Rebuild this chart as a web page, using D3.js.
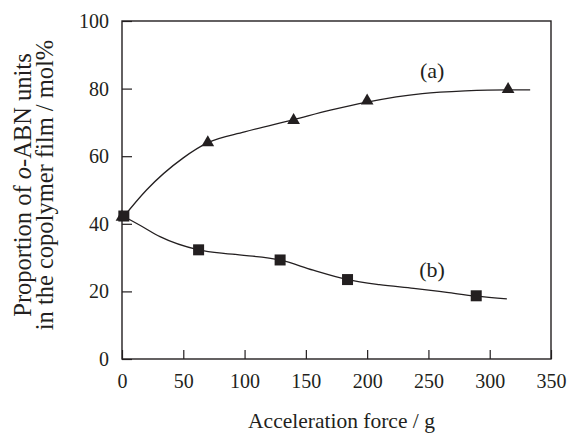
<!DOCTYPE html>
<html>
<head>
<meta charset="utf-8">
<script src="https://cdn.jsdelivr.net/npm/d3@7"></script>
<style>
  body { margin: 0; background: #fff; }
  text { font-family: "Liberation Serif", "DejaVu Serif", serif; fill: #231f20; }
</style>
</head>
<body>
<div id="chart"></div>
<script>
// measured points (a) and (b)
const pointsAX = [0, 70, 140, 200, 315];
const pointsAY = [42, 64, 70.6, 76.4, 79.8];
const pointsBX = [1.5, 62.5, 129, 184, 289];
const pointsBY = [42.3, 32.3, 29.3, 23.5, 18.7];

// fitted curves
const curveAX = [0, 20, 50, 70, 100, 140, 170, 200, 245, 280, 315, 333];
const curveAY = [41.5, 50, 59.5, 64, 67.2, 70.8, 73.6, 76, 78.5, 79.3, 79.6, 79.6];
const curveBX = [0, 15, 31, 62.5, 90, 129, 156, 184, 210, 238, 265, 289, 314];
const curveBY = [42.5, 39.5, 36.2, 32.3, 31, 29.3, 26.3, 23.5, 22, 20.9, 19.7, 18.6, 17.8];

const xTicks = [0, 50, 100, 150, 200, 250, 300, 350];
const yTicks = [0, 20, 40, 60, 80, 100];

const svgWidth = 568;
const svgHeight = 435;
const margin = {top: 21, right: 17, bottom: 76, left: 122};
const width = svgWidth - margin.left - margin.right;
const height = svgHeight - margin.top - margin.bottom;
const ink = "#231f20";

const svg = d3.select("#chart")
    .append("svg")
    .attr("width", svgWidth)
    .attr("height", svgHeight)
    .append("g")
    .attr("transform", "translate(" + margin.left + "," + margin.top + ")");

const x = d3.scaleLinear().domain([0, 350]).range([0, width]);
const y = d3.scaleLinear().domain([0, 100]).range([height, 0]);

// axes with inward ticks
const xAxis = svg.append("g")
    .attr("transform", "translate(0," + height + ")")
    .call(d3.axisBottom(x).tickValues(xTicks).tickSizeInner(-9).tickSizeOuter(0).tickPadding(15));
const yAxis = svg.append("g")
    .call(d3.axisLeft(y).tickValues(yTicks).tickSizeInner(-10).tickSizeOuter(0).tickPadding(13));

[xAxis, yAxis].forEach(function (a) {
    a.select(".domain").remove();
    a.selectAll("line").attr("stroke", ink).attr("stroke-width", 1.2);
    a.selectAll("text").style("font-size", "20px").attr("fill", ink)
        .style("font-family", "'Liberation Serif', serif");
});

// frame
svg.append("rect")
    .attr("x", 0).attr("y", 0)
    .attr("width", width).attr("height", height)
    .attr("fill", "none").attr("stroke", ink).attr("stroke-width", 1.4);

const line = d3.line()
    .x(d => x(d[0]))
    .y(d => y(d[1]))
    .curve(d3.curveMonotoneX);

svg.append("path")
    .datum(d3.zip(curveAX, curveAY))
    .attr("d", line)
    .attr("fill", "none").attr("stroke", ink).attr("stroke-width", 1.3);
svg.append("path")
    .datum(d3.zip(curveBX, curveBY))
    .attr("d", line)
    .attr("fill", "none").attr("stroke", ink).attr("stroke-width", 1.3);

svg.selectAll(".tri")
    .data(d3.zip(pointsAX, pointsAY))
    .enter().append("path")
    .attr("class", "tri")
    .attr("d", d3.symbol().type(d3.symbolTriangle).size(70))
    .attr("transform", d => "translate(" + x(d[0]) + "," + y(d[1]) + ")")
    .attr("fill", ink);

svg.selectAll(".sq")
    .data(d3.zip(pointsBX, pointsBY))
    .enter().append("rect")
    .attr("class", "sq")
    .attr("x", d => x(d[0]) - 5.5)
    .attr("y", d => y(d[1]) - 5.5)
    .attr("width", 11).attr("height", 11)
    .attr("fill", ink);

// series labels
svg.append("text")
    .attr("x", x(253)).attr("y", y(85.5))
    .attr("text-anchor", "middle").attr("dominant-baseline", "central")
    .style("font-size", "22px")
    .text("(a)");
svg.append("text")
    .attr("x", x(253)).attr("y", y(26.5))
    .attr("text-anchor", "middle").attr("dominant-baseline", "central")
    .style("font-size", "22px")
    .text("(b)");

// axis titles
svg.append("text")
    .attr("x", width / 2 + 5)
    .attr("y", height + 69)
    .attr("text-anchor", "middle")
    .style("font-size", "21.5px")
    .text("Acceleration force / g");

const yTitle = svg.append("text")
    .attr("transform", "translate(" + (-122 + 31) + "," + (185 - margin.top) + ") rotate(-90)")
    .attr("text-anchor", "middle")
    .style("font-size", "24.5px");
yTitle.append("tspan").attr("x", 0).attr("dy", 0).text("Proportion of ");
yTitle.append("tspan").style("font-style", "italic").text("o");
yTitle.append("tspan").text("-ABN units");
svg.append("text")
    .attr("transform", "translate(" + (-122 + 53) + "," + (185 - margin.top) + ") rotate(-90)")
    .attr("text-anchor", "middle")
    .style("font-size", "24.5px")
    .text("in the copolymer film / mol%");
</script>
</body>
</html>
